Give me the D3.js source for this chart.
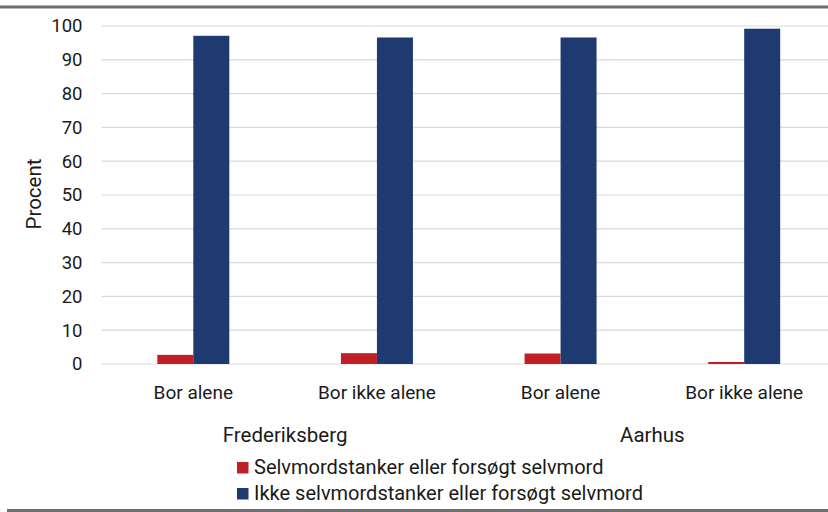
<!DOCTYPE html>
<html><head><meta charset="utf-8">
<script src="https://cdn.jsdelivr.net/npm/d3@7"></script>
<style>
body{margin:0;background:#fff;}
text{font-family:Roboto, "Noto Sans", sans-serif;fill:#1a1a1a;}
</style></head>
<body><svg id="c" width="828" height="512"></svg>
<script>
const categories = ["Bor alene","Bor ikke alene","Bor alene","Bor ikke alene"];
const groups = ["Frederiksberg","Aarhus"];
const seriesNames = ["Selvmordstanker eller forsøgt selvmord","Ikke selvmordstanker eller forsøgt selvmord"];
const redValues = [2.7, 3.2, 3.1, 0.6];
const blueValues = [97.1, 96.6, 96.6, 99.2];
const yTicks = [0,10,20,30,40,50,60,70,80,90,100];
const colors = ["#C01F26","#1E3A70"];

const svg = d3.select("#c");
const W = 828, H = 512;
const m = {left:101.5, right:836, top:26, bottom:364};

svg.append("rect").attr("x",0).attr("y",5.5).attr("width",W).attr("height",3).attr("fill","#6f6f6f");
svg.append("rect").attr("x",7).attr("y",509).attr("width",W-7).attr("height",3).attr("fill","#6f6f6f");

const idx = d3.range(categories.length);
const x = d3.scaleBand().domain(idx).range([m.left, m.right]);
const y = d3.scaleLinear().domain([0,100]).range([m.bottom, m.top]);
const xs = d3.scaleBand().domain([0,1]).range([0, 72]);

// gridlines
svg.append("g").selectAll("line").data(yTicks).join("line")
  .attr("x1",m.left).attr("x2",m.right)
  .attr("y1",d=>y(d)).attr("y2",d=>y(d))
  .attr("stroke","#d9d9d9").attr("stroke-width",1.2);

// y axis labels
const ya = svg.append("g").attr("transform",`translate(${m.left},0)`)
  .call(d3.axisLeft(y).tickValues(yTicks).tickSize(0).tickPadding(19));
ya.select(".domain").remove();
ya.selectAll("text").style("font-size","18.5px").attr("fill","#1a1a1a").attr("font-family","Roboto");

// bars
const data = idx.map(i=>[redValues[i], blueValues[i]]);
const g = svg.append("g");
data.forEach((vals,i)=>{
  const cx = x(i) + x.bandwidth()/2 - 36;
  g.selectAll(null).data(vals).join("rect")
    .attr("x",(d,j)=>cx + xs(j))
    .attr("y",d=>y(d))
    .attr("width",xs.bandwidth())
    .attr("height",d=>y(0)-y(d))
    .attr("fill",(d,j)=>colors[j]);
});

// x axis category labels
svg.append("g").selectAll("text").data(idx).join("text")
  .attr("x",i=>x(i)+x.bandwidth()/2)
  .attr("y",399)
  .attr("text-anchor","middle")
  .style("font-size","19px")
  .text(i=>categories[i]);

// group labels
svg.append("g").selectAll("text").data(groups).join("text")
  .attr("x",(d,k)=>x(2*k)+x.bandwidth())
  .attr("y",442)
  .attr("text-anchor","middle")
  .style("font-size","20.5px")
  .text(d=>d);

// y title
svg.append("text").attr("transform","translate(41,194) rotate(-90)")
  .attr("text-anchor","middle").style("font-size","20.5px").text("Procent");

// legend
const lg = svg.append("g").selectAll("g").data(seriesNames).join("g")
  .attr("transform",(d,i)=>`translate(237,${462+i*26})`);
lg.append("rect").attr("width",11.5).attr("height",11.5).attr("fill",(d,i)=>colors[i]);
lg.append("text").attr("x",17).attr("y",12).style("font-size","20px").text(d=>d);
</script></body></html>
